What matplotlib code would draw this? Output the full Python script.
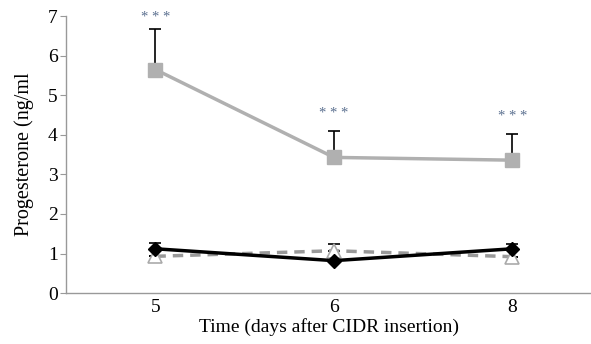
import numpy as np
import matplotlib.pyplot as plt

# progesterone after CIDR insertion
days = ['5', '6', '8']
grp_square = [5.65, 3.43, 3.36]
grp_square_err = [1.03, 0.67, 0.66]
grp_diamond = [1.12, 0.82, 1.12]
grp_diamond_err = [0.15, 0.0, 0.13]
grp_triangle = [0.93, 1.07, 0.92]
grp_triangle_err = [0.0, 0.17, 0.0]
stars_y = [6.97, 4.55, 4.47]

plt.rcParams['font.family'] = ['Liberation Serif', 'DejaVu Serif']

fig = plt.figure(figsize=(5.91, 3.44), dpi=100)
ax = fig.add_axes([0.112, 0.148, 0.888, 0.805])
x = np.arange(len(days))

ax.errorbar(x, grp_square, yerr=[np.zeros(3), grp_square_err], fmt='none',
            ecolor='black', elinewidth=1.2, capsize=4, capthick=1.2, zorder=2)
ax.plot(x, grp_square, color='#b0b0b0', lw=2.5, marker='s', ms=10,
        mfc='#b0b0b0', mec='#b0b0b0', zorder=3)

ax.errorbar(x, grp_triangle, yerr=[np.zeros(3), grp_triangle_err], fmt='none',
            ecolor='black', elinewidth=1.2, capsize=4, capthick=1.2, zorder=2)
ax.plot(x, grp_triangle, color='#999999', lw=2.5, ls=(0, (3, 2)), marker='^', ms=10,
        mfc='white', mec='#aaaaaa', mew=1.2, zorder=3)

ax.errorbar(x, grp_diamond, yerr=[np.zeros(3), grp_diamond_err], fmt='none',
            ecolor='black', elinewidth=1.2, capsize=4, capthick=1.2, zorder=4)
ax.plot(x, grp_diamond, color='black', lw=2.5, marker='D', ms=7,
        mfc='black', mec='black', zorder=5)

for xi, yi in zip(x, stars_y):
    ax.text(xi, yi, '* * *', ha='center', va='center', fontsize=10.5, color='#5a6f8f')

ax.set_xlim(-0.5, 2.44)
ax.set_ylim(0, 7)
ax.set_xticks(x)
ax.set_xticklabels(days)
ax.set_yticks(range(8))
ax.tick_params(axis='x', length=0, labelsize=14, pad=4)
ax.tick_params(axis='y', length=4, color='#999999', labelsize=14, pad=2)
for s in ['top', 'right']:
    ax.spines[s].set_visible(False)
for s in ['left', 'bottom']:
    ax.spines[s].set_color('#999999')
    ax.spines[s].set_linewidth(1.0)

ax.set_ylabel('Progesterone (ng/ml', fontsize=14.5, labelpad=10)
ax.set_xlabel('Time (days after CIDR insertion)', fontsize=14, labelpad=2)

fig.savefig('out.png', dpi=100)
